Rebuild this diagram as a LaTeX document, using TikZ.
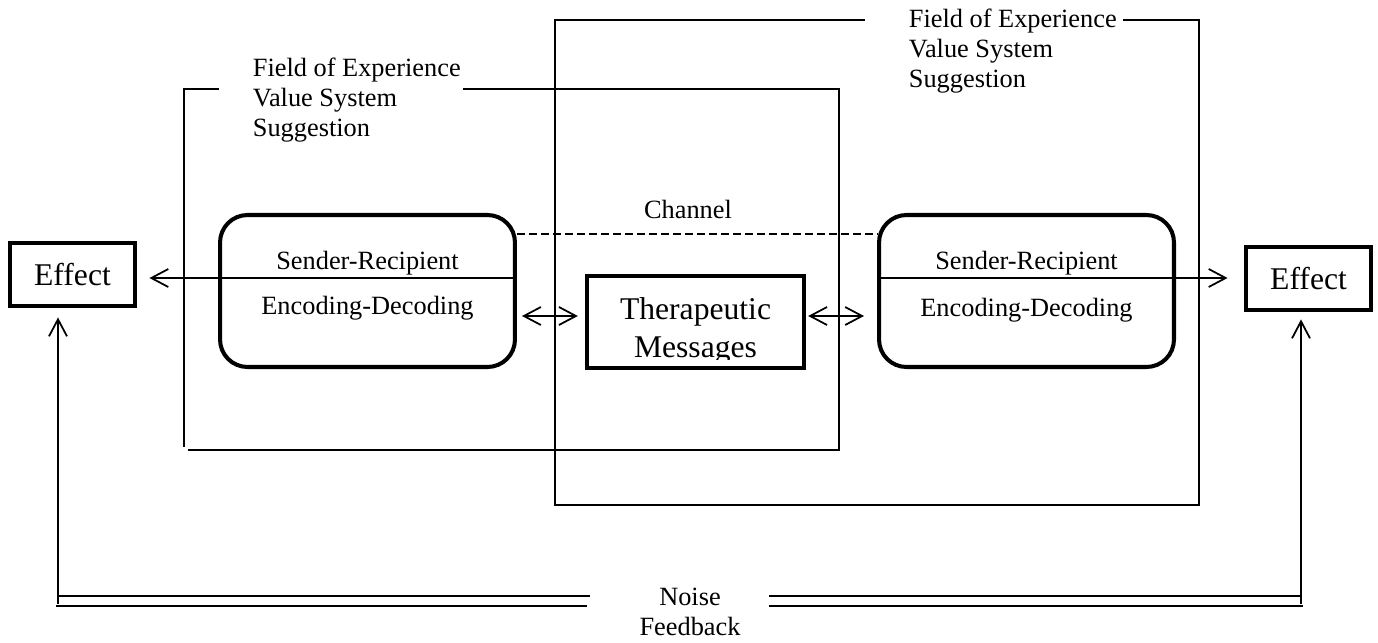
\documentclass[tikz,border=0pt]{standalone}
\usepackage{fontspec}
\setmainfont{Liberation Serif}
\usetikzlibrary{arrows.meta, positioning}

\begin{document}
\begin{tikzpicture}[
  x=0.02cm, y=-0.02cm,
  line width=1pt,
  effbox/.style   = {rectangle, draw, line width=2.8pt, minimum width=2.5cm, minimum height=1.26cm,
                     font=\fontsize{18}{22}\selectfont},
  srbox/.style    = {rectangle, draw, line width=2.3pt, rounded corners=0.55cm,
                     minimum width=5.9cm, minimum height=3.04cm},
  msgbox/.style   = {rectangle, draw, line width=2.5pt, minimum width=4.34cm, minimum height=1.84cm},
  txt/.style      = {font=\fontsize{15}{17.3}\selectfont, inner sep=0pt},
  chanline/.style = {dash pattern=on 0.16cm off 0.08cm},
  arrow/.style    = {-{Straight Barb[length=0.34cm, width=0.36cm]}},
  dblarrow/.style = {{Straight Barb[length=0.34cm, width=0.36cm]}-{Straight Barb[length=0.34cm, width=0.36cm]}},
]
  \useasboundingbox (0,0) rectangle (1378,642);

  % fields of experience
  \draw (219,89) -- (184,89) -- (184,447);
  \draw (463,89) -- (839,89) -- (839,450) -- (188,450);
  \draw (865,20) -- (555,20) -- (555,505) -- (1199,505) -- (1199,20) -- (1123,20);
  \node[txt, align=left, anchor=west] (fieldL) at (252,100) {Field of Experience\\Value System\\Suggestion};
  \node[txt, align=left, anchor=west] (fieldR) at (908,51)  {Field of Experience\\Value System\\Suggestion};

  \node[effbox] (effL) at (72.5,274.5)  {Effect};
  \node[effbox] (effR) at (1308.5,278.5) {Effect};

  \node[srbox] (srL) at (367.5,291) {};
  \node[srbox] (srR) at (1026.5,291) {};
  \node[txt] (sndL) at (367.5,263)  {Sender-Recipient};
  \node[txt] (encL) at (367.5,308)  {Encoding-Decoding};
  \node[txt] (sndR) at (1026.5,263) {Sender-Recipient};
  \node[txt] (encR) at (1026.5,310) {Encoding-Decoding};

  \node[msgbox] (msg) at (695.5,322) {};
  \begin{scope}
    \clip (msg.north west) rectangle ([yshift=0.22cm]msg.south east);
    \node[font=\fontsize{18}{22}\selectfont, align=center] (msgtxt) at (695.5,331) {Therapeutic\\Messages};
  \end{scope}

  \node[txt] (chan) at (688,209) {Channel};
  \draw[chanline] (srL.east |- 0,234) -- (srR.west |- 0,234);

  \draw[arrow, shorten >=0.24cm] (srL.east |- 0,278) -- (effL.east |- 0,278);
  \draw[arrow, shorten >=0.32cm] (srR.west |- 0,278) -- (effR.west |- 0,278);
  \draw[dblarrow, shorten <=0.1cm, shorten >=0.14cm] (srL.east |- 0,316) -- (msg.west |- 0,316);
  \draw[dblarrow, shorten <=0.04cm, shorten >=0.26cm] (msg.east |- 0,316) -- (srR.west |- 0,316);

  % noise and feedback
  \coordinate (fbL) at (58,604);
  \coordinate (fbR) at (1301,604);
  \draw[arrow, shorten >=0.18cm] (fbL) -- (fbL |- effL.south);
  \draw[arrow, shorten >=0.14cm] (fbR) -- (fbR |- effR.south);
  \draw (fbL |- 0,596) -- (590,596);
  \draw (56,606) -- (587,606);
  \draw (769,596) -- (fbR |- 0,596);
  \draw (769,606) -- (1303,606);
  \node[txt, align=center] (noise) at (690,612) {Noise\\Feedback};
\end{tikzpicture}
\end{document}
